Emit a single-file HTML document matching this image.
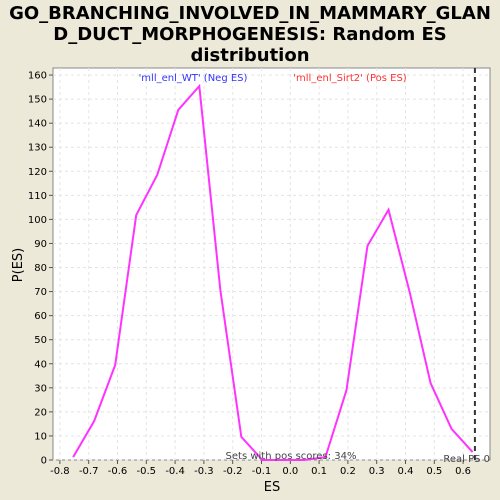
<!DOCTYPE html>
<html><head><meta charset="utf-8"><style>
html,body{margin:0;padding:0;width:500px;height:500px;overflow:hidden;background:#ece9d8;font-family:"DejaVu Sans","Liberation Sans",sans-serif}
svg{display:block}
</style></head><body>
<svg width="500" height="500" xmlns="http://www.w3.org/2000/svg" id="svg" font-family="DejaVu Sans, Liberation Sans, sans-serif">
<rect width="500" height="500" fill="#ece9d8"/>
<text x="250" y="19" text-anchor="middle" font-size="18" font-weight="bold">GO_BRANCHING_INVOLVED_IN_MAMMARY_GLAN</text>
<text x="250" y="40" text-anchor="middle" font-size="18" font-weight="bold">D_DUCT_MORPHOGENESIS: Random ES</text>
<text x="250" y="61" text-anchor="middle" font-size="18" font-weight="bold">distribution</text>
<rect x="53" y="68" width="437" height="392" fill="#fff" stroke="#888"/>
<g id="grid"></g><g id="axes"></g>
<path id="line" fill="none" stroke="#ff33ff" stroke-width="2"/>
<line id="realps" y1="68" y2="460" stroke="#333" stroke-width="2" stroke-dasharray="5,4"/>
<text x="193" y="81" text-anchor="middle" font-size="10" fill="#3333ff">'mll_enl_WT' (Neg ES)</text>
<text x="350" y="81" text-anchor="middle" font-size="10" fill="#ff3333">'mll_enl_Sirt2' (Pos ES)</text>
<text x="291" y="459" text-anchor="middle" font-size="10" fill="#444">Sets with pos scores: 34%</text>
<text x="490" y="462" text-anchor="end" font-size="10" fill="#444">Real PS 0</text>
<text x="272" y="491" text-anchor="middle" font-size="13">ES</text>
<text transform="translate(22,265) rotate(-90)" text-anchor="middle" font-size="13">P(ES)</text>
</svg>
<script>
const esValues=[-0.754,-0.681,-0.608,-0.535,-0.462,-0.389,-0.316,-0.243,-0.170,-0.097,-0.024,0.049,0.122,0.195,0.268,0.341,0.414,0.487,0.560,0.633];
const probValues=[1.2,16.2,39.5,101.8,118.5,145.5,155.4,70.7,9.6,0,0,0,1.2,29,89,104,70,32,12.9,3.3];
const xTicks=[-0.8,-0.7,-0.6,-0.5,-0.4,-0.3,-0.2,-0.1,0.0,0.1,0.2,0.3,0.4,0.5,0.6];
const yTicks=[0,10,20,30,40,50,60,70,80,90,100,110,120,130,140,150,160];
const realES=[0.641];
const X=v=>290.3+v*288, Y=v=>460-v*2.406;
const NS="http://www.w3.org/2000/svg";
const g=document.getElementById('grid'), a=document.getElementById('axes');
function mk(p,t,at){const e=document.createElementNS(NS,t);for(const k in at)e.setAttribute(k,at[k]);p.appendChild(e);return e;}
xTicks.forEach(t=>{const x=X(t);
 const gl=mk(g,'line',{x1:x,x2:x,y1:68,y2:460,stroke:'#e4e4e4','stroke-dasharray':'3,3'});
 
 
 const tk=mk(a,'line',{x1:x,x2:x,y1:460,y2:464,stroke:'#555'});
 
 
 const tx=mk(a,'text',{x:x,y:474,'text-anchor':'middle','font-size':'10'});tx.textContent=t.toFixed(1);
 
 });
yTicks.forEach(t=>{const y=Y(t);
 const gl=mk(g,'line',{x1:53,x2:490,y1:y,y2:y,stroke:'#e4e4e4','stroke-dasharray':'3,3'});
 
 
 const tk=mk(a,'line',{x1:49,x2:53,y1:y,y2:y,stroke:'#555'});
 
 
 const tx=mk(a,'text',{x:47,y:y+3.5,'text-anchor':'end','font-size':'10'});tx.textContent=t;
 
 });
document.getElementById('line').setAttribute('d',esValues.map((v,i)=>(i?'L':'M')+X(v)+','+Y(probValues[i])).join(''));
const r=document.getElementById('realps');r.setAttribute('x1',X(realES[0]));r.setAttribute('x2',X(realES[0]));
</script>
</body></html>
